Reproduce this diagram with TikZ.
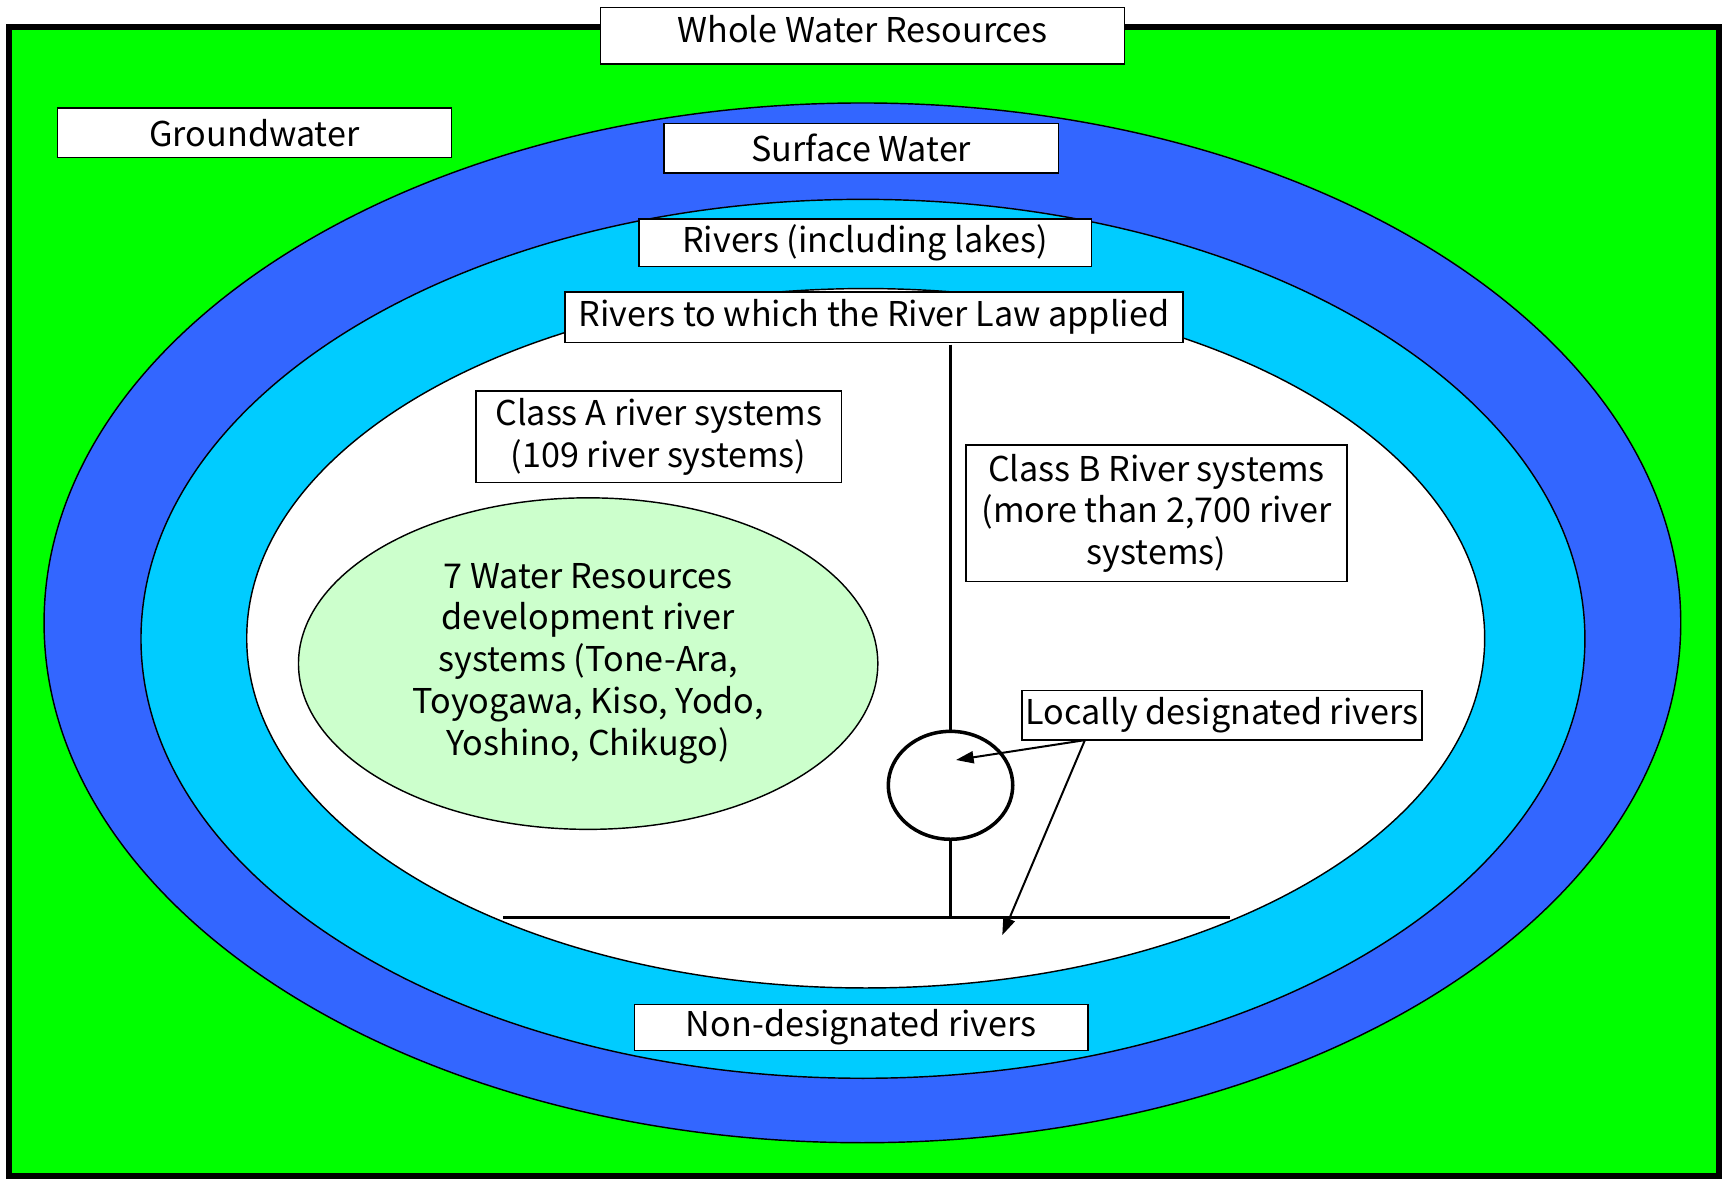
\documentclass[tikz,border=0pt]{standalone}
\usepackage{fontspec}
\setmainfont{Noto Sans CJK JP}
\usetikzlibrary{arrows.meta,shapes.geometric}
\definecolor{ggreen}{HTML}{00FF00}
\definecolor{gblue}{HTML}{3366FF}
\definecolor{gcyan}{HTML}{00CCFF}
\definecolor{glight}{HTML}{CCFFCC}
\begin{document}
\begin{tikzpicture}[x=1pt,y=-1pt,
  lbl/.style={draw=black, line width=1.3pt, fill=white, inner sep=0pt, align=center,
    font=\fontsize{31}{38}\selectfont},
  zone/.style={ellipse, draw=black, line width=1.3pt, inner sep=0pt},
  heavy/.style={line width=3.2pt},
  pointer/.style={line width=1.8pt, -{Triangle[length=16pt,width=11pt]}}]
\useasboundingbox (0,0) rectangle (1568,1070);
\draw[line width=5.5pt, fill=ggreen] (8.5,24.5) rectangle (1561,1068);
\node[zone, fill=gblue, minimum width=1486pt, minimum height=944pt] (surf) at (783,565.5) {};
\node[zone, fill=gcyan, minimum width=1311pt, minimum height=798pt] (riv) at (783.5,580) {};
\node[zone, fill=white, minimum width=1124pt, minimum height=635pt] (law) at (786,579.5) {};
\node[lbl, minimum width=476pt, minimum height=51pt, text height=23pt, text depth=10pt] (whole) at (783,32.5) {Whole Water Resources};
\node[lbl, minimum width=358pt, minimum height=45pt] (ground) at (231,120.5) {Groundwater};
\node[lbl, minimum width=358pt, minimum height=45pt] (surface) at (782,134.5) {Surface Water};
\node[lbl, minimum width=411pt, minimum height=43pt] (rivers) at (785.5,220.5) {Rivers (including lakes)};
\node[lbl, minimum width=561pt, minimum height=46pt] (lawlbl) at (793.5,288) {Rivers to which the River Law applied};
\node[lbl, minimum width=332pt, minimum height=83pt] (classA) at (598,396.5) {Class A river systems\\(109 river systems)};
\node[lbl, minimum width=346pt, minimum height=124pt] (classB) at (1050,466) {Class B River systems\\(more than 2,700 river\\systems)};
\node[zone, fill=glight, minimum width=526pt, minimum height=301pt, align=center,
  font=\fontsize{31}{38}\selectfont] (seven) at (534,602.5)
  {7 Water Resources\\development river\\systems (Tone-Ara,\\Toyogawa, Kiso, Yodo,\\Yoshino, Chikugo)};
\node[ellipse, draw=black, heavy, minimum width=113pt, minimum height=98pt, inner sep=0pt] (circ) at (863,713) {};
\coordinate (vtop) at (863,313);
\coordinate (vbot) at (863,833);
\coordinate (hl) at (457,833);
\coordinate (hr) at (1117,833);
\draw[heavy] (vtop) -- (circ.north);
\draw[heavy] (circ.south) -- (vbot);
\draw[heavy] (hl) -- (hr);
\node[lbl, minimum width=363pt, minimum height=45pt] (local) at (1109.5,649.5) {Locally designated rivers};
\coordinate (src) at (985,672);
\coordinate (tipA) at (868,690);
\coordinate (tipB) at (910,849);
\draw[pointer] (src) -- (tipA);
\draw[pointer] (src) -- (tipB);
\node[lbl, minimum width=412pt, minimum height=42pt] (nondes) at (782,933) {Non-designated rivers};
\end{tikzpicture}
\end{document}
